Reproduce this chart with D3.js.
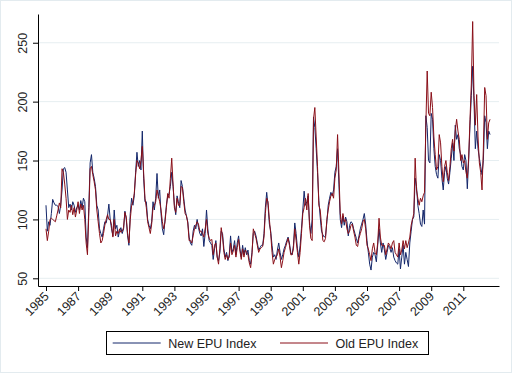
<!DOCTYPE html>
<html>
<head>
<meta charset="utf-8">
<script src="https://cdn.jsdelivr.net/npm/d3@7"></script>
<style>
  body { margin: 0; background: #fff; }
  svg { display: block; font-family: "Liberation Sans", Arial, sans-serif; }
</style>
</head>
<body>
<svg id="chart_svg" width="512" height="373"></svg>
<script>
// monthly values, Jan 1985 .. Sep 2012
const startYear = 1985;

const newEPU = [
  112, 90, 98, 95, 105, 117, 114, 112, 112, 111, 105, 112,   // 1985
  125, 143, 144, 140, 125, 110, 113, 108, 115, 112, 106, 110, // 1986
  112, 108, 116, 110, 118, 115, 85, 76, 110, 148, 155, 140,   // 1987
  135, 128, 112, 108, 92, 88, 85, 92, 98, 97, 103, 113,       // 1988
  100, 92, 86, 108, 92, 95, 85, 90, 93, 88, 92, 107,          // 1989
  100, 86, 78, 105, 118, 112, 120, 140, 157, 145, 150, 142,   // 1990
  175, 135, 115, 115, 100, 95, 92, 98, 115, 108, 118, 139,    // 1991
  118, 125, 105, 92, 87, 100, 112, 120, 122, 128, 140, 128,   // 1992
  112, 104, 120, 115, 110, 133, 128, 118, 108, 103, 98, 85,   // 1993
  80, 78, 90, 95, 92, 100, 93, 88, 86, 92, 77, 88,            // 1994
  108, 92, 82, 80, 78, 66, 75, 82, 68, 65, 72, 90,            // 1995
  88, 75, 68, 72, 65, 70, 86, 72, 75, 82, 70, 80,             // 1996
  86, 75, 68, 78, 70, 76, 70, 74, 65, 62, 72, 88,             // 1997
  90, 86, 80, 74, 76, 78, 78, 88, 110, 123, 112, 96,          // 1998
  90, 78, 68, 70, 66, 74, 80, 72, 66, 70, 75, 78,             // 1999
  82, 85, 80, 72, 70, 78, 97, 88, 75, 68, 78, 92,             // 2000
  108, 124, 112, 115, 120, 98, 88, 100, 187, 178, 160, 140,   // 2001
  116, 102, 90, 87, 85, 86, 98, 112, 118, 123, 120, 125,      // 2002
  140, 145, 160, 130, 100, 93, 103, 95, 102, 98, 86, 95,      // 2003
  98, 97, 92, 88, 84, 80, 86, 92, 96, 100, 105, 96,           // 2004
  82, 72, 62, 57, 68, 72, 70, 64, 78, 92, 80, 72,             // 2005
  80, 74, 66, 72, 78, 76, 72, 76, 68, 65, 63, 62,             // 2006
  75, 58, 68, 78, 62, 72, 66, 60, 80, 90, 100, 102,           // 2007
  135, 128, 112, 105, 96, 94, 108, 96, 188, 178, 150, 148,    // 2008
  190, 185, 160, 145, 138, 135, 155, 150, 135, 125, 140, 145, // 2009
  135, 130, 140, 152, 165, 150, 180, 168, 172, 160, 155, 145, // 2010
  142, 155, 150, 126, 150, 180, 205, 230, 200, 160, 175, 160, // 2011
  152, 145, 138, 150, 188, 182, 160, 175, 172                 // 2012
];

const oldEPU = [
  92, 82, 90, 100, 101, 100, 99, 98, 103, 108, 114, 110,      // 1985
  143, 140, 130, 118, 100, 108, 106, 112, 104, 110, 102, 108, // 1986
  115, 105, 113, 108, 112, 100, 80, 70, 105, 143, 145, 138,   // 1987
  132, 125, 108, 98, 88, 80, 82, 88, 95, 100, 104, 100,       // 1988
  100, 95, 85, 100, 86, 90, 88, 92, 89, 90, 93, 106,          // 1989
  102, 88, 80, 100, 112, 115, 122, 138, 150, 148, 143, 150,   // 1990
  162, 140, 118, 110, 98, 93, 88, 96, 110, 112, 115, 125,     // 1991
  120, 115, 108, 98, 92, 98, 110, 122, 118, 135, 152, 130,    // 1992
  110, 106, 118, 112, 112, 128, 127, 115, 105, 103, 97, 82,   // 1993
  82, 80, 86, 92, 95, 98, 96, 90, 90, 88, 85, 92,             // 1994
  100, 88, 84, 82, 83, 70, 78, 80, 68, 62, 75, 93,            // 1995
  85, 72, 66, 70, 66, 68, 80, 70, 73, 78, 68, 76,             // 1996
  83, 73, 66, 75, 68, 74, 72, 70, 63, 59, 70, 92,             // 1997
  88, 84, 78, 72, 75, 76, 77, 85, 105, 118, 115, 100,         // 1998
  88, 72, 62, 66, 68, 70, 75, 68, 59, 65, 72, 76,             // 1999
  80, 84, 78, 70, 70, 75, 92, 82, 72, 62, 72, 88,             // 2000
  105, 110, 118, 108, 122, 95, 84, 82, 185, 195, 170, 145,    // 2001
  112, 108, 95, 82, 81, 84, 100, 108, 115, 120, 122, 118,     // 2002
  135, 142, 172, 140, 105, 96, 105, 98, 100, 92, 88, 90,      // 2003
  95, 96, 90, 85, 78, 77, 84, 88, 92, 98, 100, 92,            // 2004
  78, 75, 70, 65, 75, 80, 72, 70, 80, 101, 85, 78,            // 2005
  78, 78, 70, 75, 80, 78, 75, 80, 82, 72, 70, 68,             // 2006
  80, 70, 74, 82, 75, 82, 76, 80, 85, 95, 100, 105,           // 2007
  152, 125, 118, 112, 118, 115, 120, 123, 180, 226, 190, 188, // 2008
  208, 195, 170, 155, 142, 145, 172, 165, 145, 132, 145, 150, // 2009
  140, 133, 145, 160, 168, 158, 175, 185, 175, 168, 150, 155, // 2010
  148, 150, 140, 135, 152, 185, 215, 268, 205, 180, 206, 170, // 2011
  148, 140, 125, 160, 212, 205, 168, 182, 185                 // 2012
];

const yTicks = [50, 100, 150, 200, 250];
const xTicks = d3.range(1985, 2012, 2);
const seriesNames = ["New EPU Index", "Old EPU Index"];
const seriesColors = ["#13266a", "#8a0f18"];

const svg = d3.select("#chart_svg");

// light frame round the graph region
svg.append("rect")
  .attr("x", 0.5).attr("y", 0.5)
  .attr("width", 511).attr("height", 372)
  .attr("fill", "#fff")
  .attr("stroke", "#e3ebef");

const plot = { left: 38, right: 499, top: 14, bottom: 286 };

const xScale = d3.scaleLinear()
  .domain([1984.5016, 2013.224])
  .range([plot.left, plot.right]);

const yScale = d3.scaleLinear()
  .domain([43.46, 274.4])
  .range([plot.bottom, plot.top]);

// gridlines
svg.append("g")
  .selectAll("line")
  .data(yTicks)
  .enter()
  .append("line")
  .attr("x1", plot.left)
  .attr("x2", plot.right)
  .attr("y1", d => yScale(d))
  .attr("y2", d => yScale(d))
  .attr("stroke", "#e6eef1")
  .attr("stroke-width", 1);

const toPoints = vals => vals.map((v, i) => ({ t: startYear + i / 12, v: v }));

const line = d3.line()
  .x(d => xScale(d.t))
  .y(d => yScale(d.v));

[newEPU, oldEPU].forEach((vals, i) => {
  svg.append("path")
    .datum(toPoints(vals))
    .attr("fill", "none")
    .attr("stroke", seriesColors[i])
    .attr("stroke-width", 1)
    .attr("stroke-linejoin", "round")
    .attr("d", line);
});

// y axis
const gy = svg.append("g")
  .attr("transform", "translate(" + plot.left + ",0)")
  .call(d3.axisLeft(yScale).tickValues(yTicks).tickSize(5).tickSizeOuter(0));
gy.select(".domain").attr("stroke", "#000");
gy.selectAll(".tick line").attr("stroke", "#000");
gy.selectAll(".tick text")
  .attr("x", 0).attr("y", 0).attr("dy", 0)
  .attr("text-anchor", "middle")
  .attr("transform", "translate(-11.5,0) rotate(-90)")
  .attr("font-size", "12.5px")
  .attr("font-family", "Liberation Sans, Arial, sans-serif")
  .attr("fill", "#222");

// x axis
const gx = svg.append("g")
  .attr("transform", "translate(0," + plot.bottom + ")")
  .call(d3.axisBottom(xScale).tickValues(xTicks).tickFormat(d3.format("d")).tickSize(5).tickSizeOuter(0));
gx.select(".domain").attr("stroke", "#000");
gx.selectAll(".tick line").attr("stroke", "#000");
gx.selectAll(".tick text")
  .attr("x", 0).attr("y", 0).attr("dy", "0.35em")
  .attr("text-anchor", "end")
  .attr("transform", "translate(0,8) rotate(-45)")
  .attr("font-size", "12.5px")
  .attr("font-family", "Liberation Sans, Arial, sans-serif")
  .attr("fill", "#222");

// legend
const legend = svg.append("g");
legend.append("rect")
  .attr("x", 106.5).attr("y", 331.5)
  .attr("width", 322).attr("height", 23)
  .attr("fill", "#fff")
  .attr("stroke", "#000");

const legendX = [112.7, 280];
seriesNames.forEach((name, i) => {
  legend.append("line")
    .attr("x1", legendX[i]).attr("x2", legendX[i] + 48)
    .attr("y1", 343).attr("y2", 343)
    .attr("stroke", seriesColors[i]);
  legend.append("text")
    .attr("x", legendX[i] + 55.5)
    .attr("y", 347.5)
    .attr("font-size", "12.5px")
    .attr("fill", "#222")
    .text(name);
});
</script>
</body>
</html>
